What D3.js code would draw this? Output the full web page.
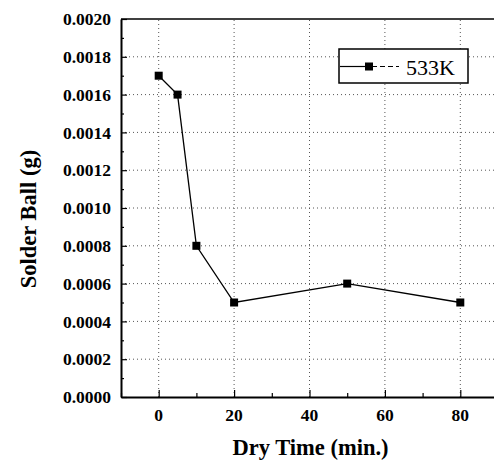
<!DOCTYPE html>
<html>
<head>
<meta charset="utf-8">
<script src="https://cdn.jsdelivr.net/npm/d3@7"></script>
<style>
  body { margin: 0; background: #fff; }
  svg { display: block; }
</style>
</head>
<body>
<svg id="chart" width="494" height="461"></svg>
<script>
// data
var dryTime = [0, 5, 10, 20, 50, 80];
var solderBall = [0.0017, 0.0016, 0.0008, 0.0005, 0.0006, 0.0005];
var seriesName = "533K";
var xTicks = [0, 20, 40, 60, 80];
var xMinorTicks = [-10, 10, 30, 50, 70];
var yTicks = [0, 0.0002, 0.0004, 0.0006, 0.0008, 0.0010, 0.0012, 0.0014, 0.0016, 0.0018, 0.0020];
var yMinorTicks = [0.0001, 0.0003, 0.0005, 0.0007, 0.0009, 0.0011, 0.0013, 0.0015, 0.0017, 0.0019];

var serif = "'Liberation Serif', 'Times New Roman', serif";
var margin = {top: 19, right: -4, bottom: 64, left: 121};
var width = 494, height = 461;

var svg = d3.select("#chart");
var x = d3.scaleLinear().domain([-10, 90]).range([margin.left, width - margin.right]);
var y = d3.scaleLinear().domain([0, 0.0020]).range([height - margin.bottom, margin.top]);

var g = svg.append("g");

// dotted grid
g.selectAll(".gx").data(xTicks).enter().append("line")
  .attr("x1", function(d) { return x(d); }).attr("x2", function(d) { return x(d); })
  .attr("y1", y(0)).attr("y2", y(0.0020))
  .attr("stroke", "#555").attr("stroke-width", 1).attr("stroke-dasharray", "1,3");
g.selectAll(".gy").data(yTicks.slice(1, -1)).enter().append("line")
  .attr("x1", x(-10)).attr("x2", x(90))
  .attr("y1", function(d) { return y(d); }).attr("y2", function(d) { return y(d); })
  .attr("stroke", "#555").attr("stroke-width", 1).attr("stroke-dasharray", "1,3");

// axes with inward ticks
var fmt = d3.format(".4f");
g.append("g").attr("transform", "translate(" + x(-10) + ",0)")
  .call(d3.axisRight(y).tickValues(yTicks).tickFormat("").tickSize(6).tickSizeOuter(0));
g.append("g").attr("transform", "translate(" + x(-10) + ",0)")
  .call(d3.axisRight(y).tickValues(yMinorTicks).tickFormat("").tickSize(3).tickSizeOuter(0))
  .select(".domain").remove();

g.append("g").attr("transform", "translate(0," + y(0) + ")")
  .call(d3.axisTop(x).tickValues(xTicks).tickFormat("").tickSize(7).tickSizeOuter(0));
g.append("g").attr("transform", "translate(0," + y(0) + ")")
  .call(d3.axisTop(x).tickValues(xMinorTicks).tickFormat("").tickSize(4).tickSizeOuter(0))
  .select(".domain").remove();

g.selectAll(".domain").attr("stroke", "#000").attr("stroke-width", 2);
g.selectAll(".tick line").attr("stroke", "#000").attr("stroke-width", 1.2);

// top frame
g.append("line").attr("x1", x(-10)).attr("x2", x(90))
  .attr("y1", y(0.0020)).attr("y2", y(0.0020))
  .attr("stroke", "#000").attr("stroke-width", 1.5);

// tick labels
g.selectAll(".yl").data(yTicks).enter().append("text")
  .attr("x", x(-10) - 10).attr("y", function(d) { return y(d); })
  .attr("dy", "0.35em").attr("text-anchor", "end")
  .style("font-family", serif).style("font-size", "17.5px").style("font-weight", "bold")
  .text(function(d) { return fmt(d); });
g.selectAll(".xl").data(xTicks).enter().append("text")
  .attr("x", function(d) { return x(d); }).attr("y", y(0) + 24)
  .attr("text-anchor", "middle")
  .style("font-family", serif).style("font-size", "17.5px").style("font-weight", "bold")
  .text(function(d) { return d; });

// axis titles
svg.append("text")
  .attr("transform", "translate(36,219) rotate(-90)")
  .attr("text-anchor", "middle")
  .style("font-family", serif).style("font-size", "22.5px").style("font-weight", "bold")
  .text("Solder Ball (g)");
svg.append("text")
  .attr("x", 310.5).attr("y", 455)
  .attr("text-anchor", "middle")
  .style("font-family", serif).style("font-size", "22.5px").style("font-weight", "bold")
  .text("Dry Time (min.)");

// series
var pts = dryTime.map(function(d, i) { return [d, solderBall[i]]; });
var line = d3.line().x(function(d) { return x(d[0]); }).y(function(d) { return y(d[1]); });
g.append("path").datum(pts).attr("d", line)
  .attr("fill", "none").attr("stroke", "#000").attr("stroke-width", 1.3);
g.selectAll(".pt").data(pts).enter().append("rect")
  .attr("x", function(d) { return x(d[0]) - 4; })
  .attr("y", function(d) { return y(d[1]) - 4; })
  .attr("width", 8).attr("height", 8).attr("fill", "#000");

// legend
var lg = svg.append("g").attr("transform", "translate(339,49)");
lg.append("rect").attr("width", 129).attr("height", 34)
  .attr("fill", "#fff").attr("stroke", "#000").attr("stroke-width", 1.5);
lg.append("line").attr("x1", 1).attr("x2", 27).attr("y1", 17.5).attr("y2", 17.5)
  .attr("stroke", "#000").attr("stroke-width", 1.2);
lg.append("line").attr("x1", 33).attr("x2", 60).attr("y1", 17.5).attr("y2", 17.5)
  .attr("stroke", "#000").attr("stroke-width", 1.2).attr("stroke-dasharray", "5,3");
lg.append("rect").attr("x", 26).attr("y", 13.5).attr("width", 8).attr("height", 8).attr("fill", "#000");
lg.append("text").attr("x", 67).attr("y", 26)
  .style("font-family", serif).style("font-size", "22px")
  .text(seriesName);
</script>
</body>
</html>
